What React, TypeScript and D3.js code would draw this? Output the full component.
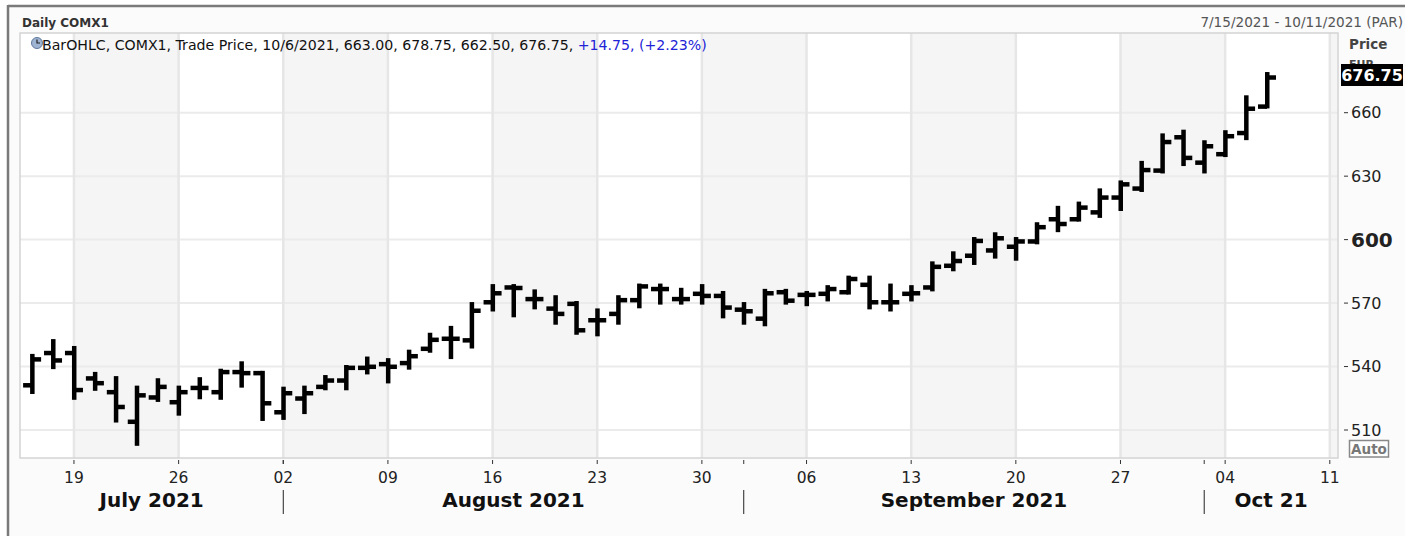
import React, { useEffect, useRef } from 'react';
import * as d3 from 'd3';

const W = 1413;
const H = 536;

// daily bars, 7/15/2021 - 10/6/2021
const dates = [
  '2021-07-15', '2021-07-16', '2021-07-19', '2021-07-20', '2021-07-21', '2021-07-22', '2021-07-23',
  '2021-07-26', '2021-07-27', '2021-07-28', '2021-07-29', '2021-07-30', '2021-08-02', '2021-08-03',
  '2021-08-04', '2021-08-05', '2021-08-06', '2021-08-09', '2021-08-10', '2021-08-11', '2021-08-12',
  '2021-08-13', '2021-08-16', '2021-08-17', '2021-08-18', '2021-08-19', '2021-08-20', '2021-08-23',
  '2021-08-24', '2021-08-25', '2021-08-26', '2021-08-27', '2021-08-30', '2021-08-31', '2021-09-01',
  '2021-09-02', '2021-09-03', '2021-09-06', '2021-09-07', '2021-09-08', '2021-09-09', '2021-09-10',
  '2021-09-13', '2021-09-14', '2021-09-15', '2021-09-16', '2021-09-17', '2021-09-20', '2021-09-21',
  '2021-09-22', '2021-09-23', '2021-09-24', '2021-09-27', '2021-09-28', '2021-09-29', '2021-09-30',
  '2021-10-01', '2021-10-04', '2021-10-05', '2021-10-06'
];
const open = [
  531.25, 546.5, 546.5, 534.5, 528.0, 514.0, 525.5,
  523.25, 530.0, 528.0, 537.5, 537.0, 518.5, 525.0,
  530.5, 533.5, 539.5, 541.25, 541.75, 548.5, 553.25,
  552.5, 570.5, 577.5, 572.0, 567.5, 569.75, 562.0,
  565.0, 571.5, 576.75, 572.0, 574.5, 573.5, 567.0,
  562.75, 575.25, 574.0, 574.5, 575.25, 578.75, 570.5,
  574.5, 577.5, 587.75, 592.5, 595.0, 596.75, 599.25,
  609.75, 609.75, 613.0, 620.0, 624.25, 632.75, 648.5,
  636.5, 640.5, 650.5, 663.0
];
const high = [
  545.5, 552.5, 549.25, 537.0, 535.0, 530.5, 534.0,
  530.5, 534.5, 538.5, 542.0, 537.5, 530.0, 530.5,
  535.5, 540.25, 544.25, 543.5, 547.5, 555.5, 558.75,
  570.0, 578.5, 578.5, 576.0, 573.25, 570.5, 567.0,
  573.25, 578.75, 578.75, 576.75, 578.5, 575.25, 570.0,
  576.25, 576.25, 575.25, 578.0, 582.5, 582.5, 578.75,
  578.0, 589.25, 594.0, 600.75, 603.0, 600.75, 607.75,
  615.5, 617.5, 623.75, 627.5, 636.75, 649.75, 651.5,
  646.5, 651.25, 667.75, 678.75
];
const low = [
  527.5, 539.25, 524.75, 529.0, 514.0, 503.0, 523.75,
  517.25, 525.0, 524.75, 530.5, 514.75, 515.25, 518.0,
  529.25, 529.25, 536.75, 532.5, 539.0, 547.0, 544.0,
  549.0, 566.5, 563.75, 567.5, 560.25, 555.5, 554.75,
  560.25, 568.0, 569.75, 569.75, 569.75, 563.25, 560.25,
  559.5, 569.75, 569.0, 571.25, 574.5, 567.5, 566.5,
  571.25, 576.0, 585.5, 588.5, 591.5, 590.5, 598.25,
  604.0, 609.0, 610.75, 614.0, 623.0, 631.75, 635.25,
  631.75, 639.5, 647.5, 662.5
];
const close = [
  543.5, 543.0, 529.0, 532.25, 521.0, 526.5, 530.5,
  528.0, 530.0, 537.5, 537.0, 522.75, 527.5, 527.5,
  533.5, 539.5, 540.0, 540.0, 545.0, 552.75, 553.25,
  566.5, 574.75, 577.25, 572.0, 565.0, 557.25, 562.0,
  571.5, 578.0, 576.75, 572.0, 573.5, 568.0, 566.25,
  574.75, 571.25, 574.0, 576.75, 581.5, 570.5, 570.5,
  574.75, 587.25, 590.0, 599.5, 600.75, 599.25, 606.0,
  607.5, 615.25, 620.0, 626.25, 633.0, 646.25, 638.75,
  644.25, 649.0, 662.0, 676.75
];

const axisEnd = '2021-10-11';
const yTicks = [510, 540, 570, 600, 630, 660];
const monthLabels = ['July 2021', 'August 2021', 'September 2021', 'Oct 21'];
const legendMain = 'BarOHLC, COMX1, Trade Price, 10/6/2021, 663.00, 678.75, 662.50, 676.75, ';
const legendChange = '+14.75, (+2.23%)';
const lastPrice = '676.75';

export default function App() {
  const ref = useRef<SVGSVGElement>(null);

  useEffect(() => {
    const svg = d3.select(ref.current);
    svg.selectAll('*').remove();

    const left = 20, right = 1338, top = 33, bottom = 458;

    // weekday slots on the axis (no weekends)
    const iso = d3.utcFormat('%Y-%m-%d');
    const days = d3.utcDay
      .range(new Date(dates[0] + 'T00:00:00Z'), d3.utcDay.offset(new Date(axisEnd + 'T00:00:00Z'), 1))
      .filter(d => d.getUTCDay() !== 0 && d.getUTCDay() !== 6);
    const slots = days.map(iso);

    const x = d3.scalePoint<string>().domain(slots).range([32.1, 1329.8]);
    const y = d3.scaleLinear().domain([510, 660]).range([430, 112.7]);

    const mondays = days.filter(d => d.getUTCDay() === 1);
    const monthStarts = days.filter((d, i) => i > 0 && d.getUTCMonth() !== days[i - 1].getUTCMonth());

    // frame
    svg.append('rect').attr('x', 8).attr('y', 6).attr('width', 1397).attr('height', H)
      .attr('fill', '#fbfbfb');
    svg.append('line').attr('x1', 8).attr('x2', 1405).attr('y1', 6).attr('y2', 6)
      .attr('stroke', '#7a7a7a').attr('stroke-width', 2.5);
    svg.append('line').attr('x1', 8).attr('x2', 8).attr('y1', 5).attr('y2', H)
      .attr('stroke', '#7a7a7a').attr('stroke-width', 2.5);

    svg.append('text').attr('x', 22).attr('y', 27)
      .attr('font-size', 12).attr('font-weight', 'bold').attr('fill', '#333')
      .text('Daily COMX1');
    svg.append('text').attr('x', 1403).attr('y', 27).attr('text-anchor', 'end')
      .attr('font-size', 13.6).attr('fill', '#555')
      .text('7/15/2021 - 10/11/2021 (PAR)');

    // plot background + alternating week bands
    svg.append('rect').attr('x', left).attr('y', top).attr('width', right - left).attr('height', bottom - top)
      .attr('fill', '#fff');
    const edges = [left, ...mondays.map(d => x(iso(d)) as number), right];
    svg.append('g').selectAll('rect')
      .data(d3.range(edges.length - 1).filter(i => i % 2 === 1))
      .enter().append('rect')
      .attr('x', i => edges[i]).attr('width', i => edges[i + 1] - edges[i])
      .attr('y', top).attr('height', bottom - top)
      .attr('fill', '#f5f5f5');

    // grid
    svg.append('g').selectAll('line')
      .data(yTicks).enter().append('line')
      .attr('x1', left).attr('x2', right)
      .attr('y1', d => y(d)).attr('y2', d => y(d))
      .attr('stroke', '#ebebeb').attr('stroke-width', 2);
    svg.append('g').selectAll('line')
      .data(mondays).enter().append('line')
      .attr('x1', d => x(iso(d)) as number).attr('x2', d => x(iso(d)) as number)
      .attr('y1', top).attr('y2', bottom)
      .attr('stroke', '#e6e6e6').attr('stroke-width', 2.5);
    svg.append('rect').attr('x', left).attr('y', top).attr('width', right - left).attr('height', bottom - top)
      .attr('fill', 'none').attr('stroke', '#d4d4d4').attr('stroke-width', 1.5);

    // OHLC bars
    const bars = svg.append('g').attr('fill', '#000');
    dates.forEach((d, i) => {
      const cx = x(d) as number;
      bars.append('rect').attr('x', cx - 2).attr('width', 4.5)
        .attr('y', y(high[i]) - 1).attr('height', y(low[i]) - y(high[i]) + 2);
      bars.append('rect').attr('x', cx - 9).attr('width', 9)
        .attr('y', y(open[i]) - 2).attr('height', 4.5);
      bars.append('rect').attr('x', cx).attr('width', 9)
        .attr('y', y(close[i]) - 2).attr('height', 4.5);
    });

    // legend
    const icon = svg.append('g').attr('transform', 'translate(37,43)');
    icon.append('circle').attr('r', 5.5).attr('fill', '#9fb4d2').attr('stroke', '#61789c').attr('stroke-width', 1);
    icon.append('path').attr('d', 'M0,-3.5V0H3').attr('fill', 'none').attr('stroke', '#222').attr('stroke-width', 1.2);
    const leg = svg.append('text').attr('x', 42).attr('y', 50).attr('font-size', 14.15).attr('fill', '#111');
    leg.append('tspan').text(legendMain);
    leg.append('tspan').attr('fill', '#2222d6').text(legendChange);

    // y axis
    const ya = svg.append('g');
    ya.selectAll('line').data(yTicks).enter().append('line')
      .attr('x1', 1344).attr('x2', 1348)
      .attr('y1', d => y(d)).attr('y2', d => y(d))
      .attr('stroke', '#333').attr('stroke-width', 1);
    ya.selectAll('text').data(yTicks).enter().append('text')
      .attr('x', 1351).attr('y', d => y(d)).attr('dy', '0.36em')
      .attr('font-size', d => d === 600 ? 20 : 16)
      .attr('font-weight', d => d === 600 ? 'bold' : 'normal')
      .attr('fill', '#222')
      .text(d => d);

    svg.append('text').attr('x', 1349).attr('y', 49).attr('font-size', 13.5)
      .attr('font-weight', 'bold').attr('fill', '#444').text('Price');
    // currency label sits mostly behind the last-price box, as in the source
    svg.append('text').attr('x', 1349).attr('y', 68).attr('font-size', 11)
      .attr('font-weight', 'bold').attr('fill', '#444').text('EUR');
    svg.append('rect').attr('x', 1341).attr('y', 64).attr('width', 62).attr('height', 22).attr('fill', '#000');
    svg.append('text').attr('x', 1372).attr('y', 81).attr('text-anchor', 'middle')
      .attr('font-size', 16).attr('font-weight', 'bold').attr('fill', '#fff').text(lastPrice);

    svg.append('rect').attr('x', 1349.5).attr('y', 440.5).attr('width', 39).attr('height', 16.5)
      .attr('fill', '#fff').attr('stroke', '#888').attr('stroke-width', 1.5);
    svg.append('text').attr('x', 1369).attr('y', 454).attr('text-anchor', 'middle')
      .attr('font-size', 13.5).attr('font-weight', 'bold').attr('fill', '#777').text('Auto');

    // x axis
    const xa = svg.append('g');
    xa.selectAll('line.tick').data([...mondays, ...monthStarts]).enter().append('line')
      .attr('x1', d => x(iso(d)) as number).attr('x2', d => x(iso(d)) as number)
      .attr('y1', 460).attr('y2', 464)
      .attr('stroke', '#333').attr('stroke-width', 1);
    xa.selectAll('text.day').data(mondays).enter().append('text')
      .attr('x', d => x(iso(d)) as number).attr('y', 483)
      .attr('text-anchor', 'middle').attr('font-size', 15.5).attr('fill', '#222')
      .text(d3.utcFormat('%d'));

    const mEdges = [left, ...monthStarts.map(d => x(iso(d)) as number), right];
    xa.selectAll('line.sep').data(monthStarts).enter().append('line')
      .attr('x1', d => x(iso(d)) as number).attr('x2', d => x(iso(d)) as number)
      .attr('y1', 490).attr('y2', 514)
      .attr('stroke', '#222').attr('stroke-width', 1);
    xa.selectAll('text.month').data(monthLabels).enter().append('text')
      .attr('x', (d, i) => (mEdges[i] + mEdges[i + 1]) / 2).attr('y', 507)
      .attr('text-anchor', 'middle').attr('font-size', 20).attr('font-weight', 'bold').attr('fill', '#111')
      .text(d => d);
  }, []);

  return (
    <svg ref={ref} width={W} height={H}
      style={{ position: 'absolute', left: 0, top: 0, fontFamily: '"DejaVu Sans", Verdana, sans-serif' }} />
  );
}
